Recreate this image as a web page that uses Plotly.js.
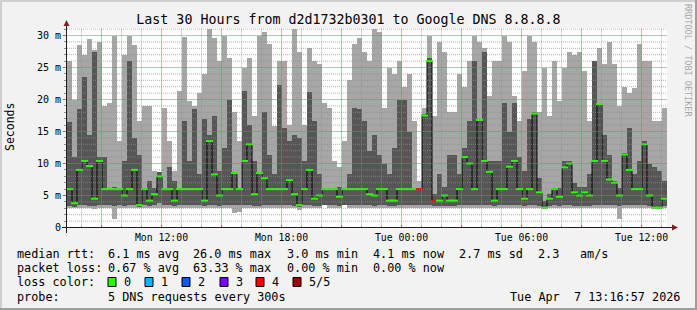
<!DOCTYPE html>
<html><head><meta charset="utf-8">
<script src="https://cdn.plot.ly/plotly-3.0.1.min.js"></script>
<style>html,body{margin:0;padding:0;background:#f2f2f2;}</style>
</head><body><div id="chart" style="width:697px;height:310px;"></div>
<script>
// ---- data (15-minute columns, values in milliseconds) ----
const rangeStart = '2026-04-06 07:16:30';
const rangeEnd   = '2026-04-07 13:16:30';
const stepMinutes = 15;

const maxV = [26,20,28.5,27,29.5,27.8,29,19,19.5,30,13.5,27,29.9,28.5,16.6,19,19,8.8,8.7,18.7,13.5,8.8,21.3,29.8,
 19.7,19,21,24,31,29.6,26,30,26.5,18,13.5,25,26.5,17.5,30,30.6,28.6,15.8,26,26,16,31,27.5,16,
 28,26,25.5,19.5,18.7,10.4,9.4,13.5,23,28.6,29.6,27.5,26,31,30.5,18.7,25,24,26,22,24,16.6,7.3,18.7,
 30,17.5,29,27.5,18,18,24,22,26,30,29,28,20.5,26,26,30,29,20.5,16.6,24.5,30,29,18,25,
 17.5,26,19.7,25,27.5,27,27.5,24.5,16.6,26,28,25.5,29,25.5,19,22,21,21.8,28.6,26,26,16.6,16.6,18.7];
const p4V = [16.5,11,18.5,23.5,14.5,27.5,11,11,6.2,6.3,6.2,10.4,26,14,11.4,6.2,7.3,6.2,8.7,6.2,9.4,7.3,6.2,16.6,
 10.4,18.5,8.3,17,14.5,17.5,8.8,12.5,20,8.6,6.2,21.3,16,10.4,8.6,18,11.4,8.3,22.3,15.6,13.5,14.5,14,10.4,
 21.2,16.6,8.3,6.2,6.2,6.2,6.3,6.2,8.3,18.7,18.5,16.6,12,14.5,11.4,9.9,8.3,12.5,20,20,15,6.2,6.2,17.8,
 26.5,5.2,8.3,6.4,11.4,11.4,8.3,12.5,16.6,26,17,27.5,10.4,10.4,10.4,19.5,15,19.5,11,8.8,17,18,7.8,4.2,
 5.2,6.2,6.2,10.4,10.4,7.0,6.4,6.4,8.3,26,19.5,14.5,11.4,7.3,6.2,11.6,15.6,8.3,10.4,13.5,9.9,9.4,8.8,7.3];
const medV = [6.0,3.8,9.0,10.4,9.6,4.5,10.4,6.0,6.0,6.0,6.0,5.0,6.0,9.0,3.5,6.0,4.2,5.2,8.0,6.0,6.0,4.2,6.0,6.0,
 6.0,6.0,6.0,4.2,13.5,8.3,5.0,6.0,6.0,8.5,6.0,10.4,13.0,5.2,8.5,7.7,6.0,6.0,6.0,6.0,7.4,5.2,3.5,6.0,
 9.0,4.5,5.0,6.0,6.0,6.0,4.8,6.0,6.0,6.0,6.0,6.0,5.2,5.0,6.0,6.0,4.2,4.2,6.0,6.0,6.0,6.0,6.0,17.5,
 26,4.2,4.2,5.0,4.2,4.2,6.0,11,10,6.0,16.8,10.4,8.7,4.2,6.0,6.0,9.5,10.4,6.0,4.5,6.0,17.8,5.5,3.1,
 4.5,6.0,4.8,9.4,10.0,5.5,5.0,5.5,5.0,10.4,19.3,10.4,7.5,7.0,5.0,11.4,9.0,6.0,6.0,13.0,5.0,3.1,3.1,4.5];
const p2V = [3.3,3.2,3.5,3.5,3.3,3.3,3.5,3.5,3.5,3.4,3.5,3.3,3.5,3.5,3.2,3.5,3.3,3.5,3.8,3.5,3.5,3.3,3.5,3.5,
 3.5,3.5,3.5,3.3,3.5,3.5,3.4,3.5,3.5,3.5,3.5,3.5,3.5,3.3,3.4,3.5,3.5,3.5,3.5,3.5,3.5,3.4,3.2,3.5,
 3.5,3.3,3.4,3.5,3.5,3.5,3.4,3.5,3.5,3.5,3.5,3.5,3.5,3.4,3.5,3.5,3.3,3.3,3.5,3.5,3.5,3.5,3.5,3.5,
 3.5,3.3,3.3,3.4,3.3,3.3,3.5,3.5,3.5,3.5,3.5,3.5,3.5,3.3,3.5,3.5,3.5,3.5,3.5,3.3,3.5,3.5,3.3,3.0,
 3.3,3.5,3.3,3.5,3.5,3.4,3.4,3.4,3.4,3.5,3.5,3.5,3.5,3.5,3.4,3.5,3.5,3.5,3.5,3.5,3.4,3.0,3.0,3.3];
const minV = [3.0,3.0,3.0,3.0,3.0,2.9,3.0,3.0,3.0,1.3,3.0,3.0,3.0,3.0,3.0,3.0,3.0,3.0,3.0,3.0,3.0,3.0,3.0,3.0,
 3.0,3.0,3.0,3.0,3.0,3.0,3.0,3.0,3.0,2.3,2.5,3.0,3.0,3.0,3.0,3.0,3.0,3.0,3.0,3.0,3.0,3.0,2.8,3.0,
 3.0,3.0,3.0,3.6,3.0,3.0,3.0,3.6,3.0,3.0,3.0,3.0,3.0,3.0,3.0,3.0,3.0,3.0,3.0,3.0,3.0,3.0,3.0,3.0,
 3.0,3.0,3.0,3.0,3.0,3.0,3.0,3.0,3.0,3.0,3.0,3.0,3.0,3.0,3.0,3.0,3.0,3.0,3.0,3.0,3.0,3.0,3.0,2.9,
 3.0,3.0,3.0,3.0,3.0,3.0,3.0,3.0,3.0,3.0,3.0,3.0,3.0,3.0,1.3,3.0,3.0,3.0,3.0,3.0,3.0,2.9,2.9,3.0];
const lossV = [0,0,0,0,0,0,0,0,0,0,0,0,0,0,0,0,0,0,0,0,0,0,0,0,
 0,0,0,0,0,0,0,0,0,0,0,0,0,0,0,0,0,0,0,0,0,0,0,0,
 0,0,0,0,0,0,0,0,0,0,0,0,0,0,0,0,0,0,0,0,0,0,4,0,
 0,4,0,0,0,0,0,0,0,0,0,0,0,0,0,0,0,0,0,0,0,0,0,0,
 0,0,0,0,0,0,0,0,0,0,0,0,0,0,0,0,0,0,0,0,0,0,0,0];

const majorTickVals = ['2026-04-06 09:00','2026-04-06 12:00','2026-04-06 15:00','2026-04-06 18:00','2026-04-06 21:00',
 '2026-04-07 00:00','2026-04-07 03:00','2026-04-07 06:00','2026-04-07 09:00','2026-04-07 12:00'];
const majorTickText = ['','Mon 12:00','','Mon 18:00','','Tue 00:00','','Tue 06:00','','Tue 12:00'];
const minorHourVals = ['2026-04-06 08:00','2026-04-06 10:00','2026-04-06 11:00','2026-04-06 13:00','2026-04-06 14:00',
 '2026-04-06 16:00','2026-04-06 17:00','2026-04-06 19:00','2026-04-06 20:00','2026-04-06 22:00','2026-04-06 23:00',
 '2026-04-07 01:00','2026-04-07 02:00','2026-04-07 04:00','2026-04-07 05:00','2026-04-07 07:00','2026-04-07 08:00',
 '2026-04-07 10:00','2026-04-07 11:00','2026-04-07 13:00'];
const yTickVals = [0,5,10,15,20,25,30];
const yTickText = ['0','5 m','10 m','15 m','20 m','25 m','30 m'];
const yMinorVals = [1,2,3,4,6,7,8,9,11,12,13,14,16,17,18,19,21,22,23,24,26,27,28,29,31];

const lossNames = ['0','1','2','3','4','5/5'];
const lossColors = ['#26ff00','#00b8ff','#0059ff','#7e00ff','#ff0000','#a00000'];

const titleText = 'Last 30 Hours from d2d1732b0301 to Google DNS 8.8.8.8';
const statsRtt = ['6.1 ms avg','26.0 ms max','3.0 ms min','4.1 ms now','2.7 ms sd','2.3','am/s'];
const statsLoss = ['0.67 % avg','63.33 % max','0.00 % min','0.00 % now'];
const probeText = '5 DNS requests every 300s';
const stampText = 'Tue Apr  7 13:16:57 2026';

// ---- build ----
const t0 = Date.UTC(2026,3,6,7,16,30);
const times = maxV.map((_,k) => new Date(t0 + (k+0.5)*stepMinutes*60000).toISOString().replace('T',' ').slice(0,19));
const colW = stepMinutes*60000;

const FONT = 'DejaVu Sans Mono, monospace';
const L = 67, R = 667, T = 28, B = 228;
const HALF = 0.078125;
const YRANGE = [-HALF, 31.25 - HALF];
const px = x => (x - L)/(R - L);
const py = y => (B - y)/(B - T);

const traces = [
 {type:'bar', x:times, base:minV, y:maxV.map((v,i)=>v-minV[i]), width:colW,
  marker:{color:'#a6a6a6', line:{width:0}}, hoverinfo:'skip', showlegend:false},
 {type:'bar', x:times, base:p2V, y:p4V.map((v,i)=>v-p2V[i]), width:colW,
  marker:{color:'#565656', line:{width:0}}, hoverinfo:'skip', showlegend:false},
 {type:'scatter', mode:'lines', x:times, y:medV, line:{color:'#000', width:1, shape:'hvh'},
  hoverinfo:'skip', showlegend:false},
 {type:'scatter', mode:'markers', x:times, y:medV,
  marker:{symbol:'line-ew', size:5, line:{width:2, color:lossV.map(l=>lossColors[l])}},
  hoverinfo:'skip', showlegend:false}
];

const ann = [];
function txt(text, x, y, anchor, extra){
  ann.push(Object.assign({text:text, xref:'paper', yref:'paper', x:px(x), y:py(y), xanchor:anchor||'left',
    yanchor:'middle', showarrow:false, borderpad:0, font:{family:FONT, size:11.8, color:'#000'}}, extra||{}));
}
txt('median rtt:', 16, 254);
const rttX = [107, 192, 286, 372, 458, 537, 579];
statsRtt.forEach((s,i)=>txt(s, rttX[i], 254));
txt('packet loss:', 16, 268);
statsLoss.forEach((s,i)=>txt(s, rttX[i], 268));
txt('loss color:', 16, 282);
const boxX = [108,145,182,220,256,293];
const shapes = [];
shapes.push({type:'rect', xref:'paper', yref:'paper', x0:0, x1:1, y0:0, y1:1, fillcolor:'#ffffff', line:{width:0}, layer:'below'});

// grid over the data, as rrdtool draws it
const redGrid = 'rgba(225,90,90,0.5)';
const grayGridV = 'rgba(143,143,143,0.35)';
const grayGridH = 'rgba(143,143,143,0.7)';
minorHourVals.forEach(v=>shapes.push({type:'line', xref:'x', yref:'paper', x0:v, x1:v, y0:0, y1:1, layer:'above',
  line:{color:grayGridV, width:1}}));
yMinorVals.forEach(v=>shapes.push({type:'line', xref:'paper', yref:'y', x0:0, x1:1, y0:v, y1:v, layer:'above',
  line:{color:grayGridH, width:1, dash:'1px,1px'}}));
majorTickVals.forEach(v=>shapes.push({type:'line', xref:'x', yref:'paper', x0:v, x1:v, y0:0, y1:1, layer:'above',
  line:{color:redGrid, width:1}}));
yTickVals.slice(1).forEach(v=>shapes.push({type:'line', xref:'paper', yref:'y', x0:0, x1:1, y0:v, y1:v, layer:'above',
  line:{color:redGrid, width:1}}));

lossNames.forEach((n,i)=>{
  shapes.push({type:'rect', xref:'paper', yref:'paper', x0:px(boxX[i]), x1:px(boxX[i]+8), y0:py(286.5), y1:py(277.5),
    fillcolor:lossColors[i], line:{color:'#000', width:1}});
  txt(n, boxX[i]+15, 282);
});
txt('probe:', 16, 297);
txt(probeText, 107, 297);
txt(stampText, 681, 297, 'right');
txt('Seconds', 10, 127, 'center', {textangle:-90, font:{family:FONT, size:11.5, color:'#000'}});
txt('RRDTOOL / TOBI OETIKER', 688, 60, 'center', {textangle:90, font:{family:FONT, size:8.5, color:'#a8a8a8'}});

// axis lines + arrows
shapes.push({type:'line', xref:'paper', yref:'paper', x0:px(62), x1:px(672), y0:py(227.5), y1:py(227.5), line:{color:'#1f1f1f', width:1}});
shapes.push({type:'line', xref:'paper', yref:'paper', x0:px(66.5), x1:px(66.5), y0:py(233), y1:py(25), line:{color:'#1f1f1f', width:1}});
shapes.push({type:'path', xref:'paper', yref:'paper', fillcolor:'#801f1f', line:{width:0},
  path:`M${px(672)},${py(224.5)} L${px(678)},${py(227.5)} L${px(672)},${py(230.5)} Z`});
shapes.push({type:'path', xref:'paper', yref:'paper', fillcolor:'#801f1f', line:{width:0},
  path:`M${px(63.5)},${py(26)} L${px(66.5)},${py(20)} L${px(69.5)},${py(26)} Z`});
// frame
shapes.push({type:'rect', xref:'paper', yref:'paper', x0:px(0), x1:px(697), y0:py(0), y1:py(2), fillcolor:'#cfcfcf', line:{width:0}});
shapes.push({type:'rect', xref:'paper', yref:'paper', x0:px(0), x1:px(2), y0:py(0), y1:py(310), fillcolor:'#cfcfcf', line:{width:0}});
shapes.push({type:'rect', xref:'paper', yref:'paper', x0:px(695), x1:px(697), y0:py(0), y1:py(310), fillcolor:'#9e9e9e', line:{width:0}});
shapes.push({type:'rect', xref:'paper', yref:'paper', x0:px(0), x1:px(697), y0:py(308), y1:py(310), fillcolor:'#9e9e9e', line:{width:0}});

const layout = {
  width:697, height:310,
  margin:{l:L, r:697-R, t:T, b:310-B, pad:0},
  paper_bgcolor:'#f2f2f2', plot_bgcolor:'rgba(0,0,0,0)',
  barmode:'overlay', bargap:0, showlegend:false,
  title:{text:titleText, font:{family:FONT, size:13.3, color:'#000'}, x:0.5, xref:'container', xanchor:'center',
    y:1-19/310, yref:'container', yanchor:'middle'},
  xaxis:{type:'date', range:[rangeStart, rangeEnd], tickmode:'array', tickvals:majorTickVals, ticktext:majorTickText,
    showgrid:false, zeroline:false, showline:false, ticks:'inside', ticklen:3, tickcolor:'#de4f4f', tickwidth:1,
    minor:{tickmode:'array', tickvals:minorHourVals, ticks:'inside', ticklen:2, tickcolor:'#8f8f8f', showgrid:false},
    ticklabelstandoff:2, tickfont:{family:FONT, size:9.8, color:'#000'}, fixedrange:true},
  yaxis:{range:YRANGE, tickmode:'array', tickvals:yTickVals, ticktext:yTickText, showgrid:false, zeroline:false,
    showline:false, ticks:'outside', ticklen:3, tickcolor:'#de4f4f', tickwidth:1,
    minor:{tickmode:'array', tickvals:yMinorVals, ticks:'outside', ticklen:2, tickcolor:'#8f8f8f', showgrid:false},
    tickfont:{family:FONT, size:10, color:'#000'}, fixedrange:true},
  annotations:ann, shapes:shapes
};

Plotly.newPlot('chart', traces, layout, {staticPlot:true, displayModeBar:false});
</script></body></html>
